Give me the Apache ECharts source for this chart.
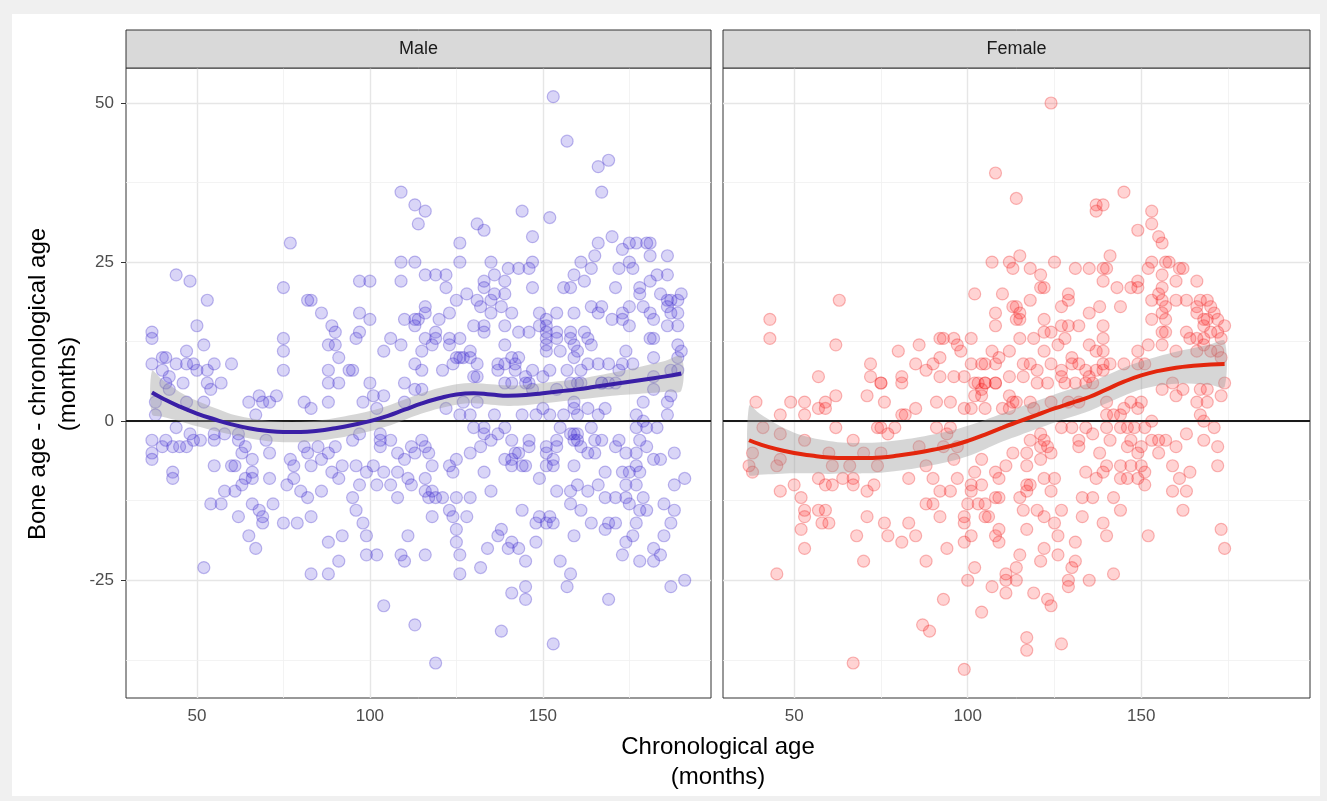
<!DOCTYPE html>
<html lang="en">
<head>
    <meta charset="UTF-8">
    <title>Bone age vs chronological age</title>
    <script src="https://cdn.jsdelivr.net/npm/echarts@6/dist/echarts.min.js" type="text/javascript"></script>
</head>
<body>
<style>
    html, body {
        margin: 0;
        padding: 0;
        background: #f0f0f0;
    }

    #main {
        width: 1327px;
        height: 801px;
    }
</style>
<div id="main"></div>
<script type="text/javascript">
    // facets
    var panels = ['Male', 'Female']
    var xTicks = [50, 100, 150]
    var xMinor = [75, 125, 175]
    var yTicks = [-25, 0, 25, 50]
    var yMinor = [-37.5, -12.5, 12.5, 37.5]

    // [chronological age, bone age - chronological age]
    var malePoints = [
        [109,36],[113,34],[114,31],[77,28],[109,25],[113,25],[44,23],[48,22],[53,19],[75,21],[82,19],[83,19],[86,17],[97,22],[100,22],
        [109,22],[50,15],[37,14],[37,13],[52,12],[47,11],[75,13],[75,11],[97,17],[100,16],[89,15],[90,14],[97,14],[96,13],[88,12],
        [90,12],[91,10],[104,11],[106,13],[109,12],[110,16],[113,15],[114,16],[37,9],[40,10],[41,10],[44,9],[47,9],[49,9],[50,8],
        [53,8],[55,9],[60,9],[40,8],[42,7],[46,6],[53,6],[75,8],[88,8],[94,8],[95,8],[88,6],[100,6],[110,6],[113,9],
        [153,51],[157,44],[166,40],[169,41],[167,36],[152,32],[144,33],[116,33],[131,31],[133,30],[126,28],[147,29],[170,29],[166,28],
        [175,28],[177,28],[180,28],[181,28],[173,27],[165,26],[181,26],[186,26],[126,25],[135,25],[147,25],[161,25],[164,24],[140,24],
        [143,24],[146,24],[172,24],[176,24],[175,25],[116,23],[119,23],[122,23],[136,23],[159,23],[162,22],[181,22],[183,23],[186,23],
        [133,22],[133,21],[139,22],[147,21],[156,21],[158,21],[171,21],[122,21],[128,20],[136,20],[139,20],[178,21],[178,20],[190,20],
        [184,20],[125,19],[131,19],[135,19],[186,19],[187,19],[189,19],[132,18],[138,18],[164,18],[167,18],[175,18],[179,18],[135,17],
        [141,17],[149,17],[154,17],[159,17],[166,17],[173,17],[181,17],[186,18],[187,17],[189,17],[116,18],[113,16],[116,17],[120,16],
        [123,17],[151,16],[170,16],[173,16],[182,16],[186,15],[189,15],[130,15],[133,15],[139,15],[149,15],[151,15],[175,15],[119,14],
        [133,14],[143,14],[146,14],[151,14],[154,14],[158,14],[162,14],[163,13],[164,12],[154,13],[158,13],[159,12],[151,13],[151,12],
        [151,11],[116,13],[119,13],[123,13],[123,12],[126,13],[115,11],[118,12],[129,11],[126,10],[139,12],[155,11],[160,11],[174,11],
        [182,13],[181,13],[189,12],[190,11],[189,10],[182,10],[125,10],[127,10],[129,10],[131,9],[124,9],[137,9],[139,9],[141,10],
        [143,10],[142,9],[159,10],[163,9],[166,9],[169,9],[173,9],[176,9],[115,8],[121,8],[137,8],[142,8],[147,8],[152,8],[157,8],
        [161,8],[172,8],[131,7],[130,7],[139,6],[146,6],[158,6],[160,6],[167,6],[169,6],[182,7],[187,8],[189,8],[145,7],[150,7],
        [54,5],[57,6],[41,6],[42,5],[38,3],[38,1],[47,3],[52,3],[65,3],[68,4],[69,3],[71,3],[73,4],[67,1],[81,3],[83,2],[88,3],[91,6],
        [98,3],[101,4],[104,4],[102,2],[110,3],
        [37,-3],[41,-3],[40,-4],[43,-4],[45,-4],[47,-4],[37,-5],[37,-6],[44,-1],[48,-2],[49,-3],[51,-3],[55,-3],[55,-2],[43,-8],[43,-9],
        [55,-7],[60,-7],[61,-7],[62,-3],[64,-4],[63,-5],[66,-6],[71,-5],[66,-8],[66,-9],[64,-9],[63,-10],[61,-11],[58,-11],[71,-9],
        [70,-3],[58,-2],[62,-2],[54,-13],[57,-13],[66,-13],[68,-14],[69,-15],[69,-16],[72,-13],[62,-15],[65,-18],[67,-20],[52,-23],
        [75,-16],[79,-16],[83,-15],[77,-6],[78,-7],[81,-4],[82,-5],[83,-7],[85,-4],[86,-6],[88,-5],[90,-4],[92,-7],[76,-10],[78,-9],
        [80,-11],[82,-12],[86,-11],[89,-8],[91,-9],[83,-24],[88,-24],[91,-22],[88,-19],[92,-18],
        [95,-3],[97,-2],[96,-7],[97,-10],[99,-8],[101,-7],[102,-10],[95,-12],[96,-14],[98,-16],[99,-18],[99,-21],[102,-21],[103,-3],
        [103,-4],[103,-2],[106,-3],[104,-8],[106,-10],[108,-8],[108,-12],[111,-9],[112,-10],[108,-5],[110,-6],[112,-4],[111,-18],
        [109,-21],[110,-22],[104,-29],[113,-32],
        [119,-38],[138,-33],[153,-35],[141,-27],[145,-26],[145,-28],[157,-26],[158,-24],[169,-28],[187,-26],[191,-25],[126,-24],
        [132,-23],[116,-21],[126,-21],[134,-20],[140,-20],[141,-19],[143,-20],[145,-22],[148,-19],[155,-22],[159,-18],[173,-21],
        [174,-19],[176,-18],[178,-22],[182,-22],[182,-20],[184,-21],[185,-18],[125,-17],[125,-19],[137,-18],[138,-17],[118,-15],
        [123,-14],[124,-15],[128,-15],[144,-14],[148,-16],[149,-15],[151,-16],[152,-15],[153,-16],[158,-13],[161,-14],[164,-16],
        [168,-17],[169,-16],[171,-16],[177,-16],[178,-14],[180,-14],[179,-12],[185,-13],[188,-14],[187,-16],[116,-11],[118,-11],
        [117,-12],[119,-12],[121,-12],[125,-12],[129,-12],[135,-11],[154,-11],[158,-11],[160,-10],[163,-11],[166,-10],[168,-12],
        [171,-12],[174,-12],[175,-13],[174,-10],[177,-10],[188,-10],[191,-9],
        [115,-3],[116,-4],[117,-5],[113,-5],[118,-7],[116,-9],[123,-7],[124,-8],[125,-6],[129,-5],[132,-4],[133,-8],[135,-3],[137,-2],
        [139,-1],[139,-6],[141,-3],[141,-6],[142,-5],[143,-5],[144,-7],[146,-3],[146,-4],[141,-7],[145,-7],[151,-4],[151,-5],[151,-7],
        [153,-7],[153,-6],[149,-9],[154,-3],[154,-4],[155,-1],[159,-7],[158,-2],[159,-2],[160,-2],[159,-3],[160,-3],[161,-4],[163,-5],
        [164,-1],[165,-3],[165,-5],[167,-3],[168,-8],[171,-4],[172,-3],[173,-8],[175,-8],[177,-7],[178,-8],[174,-5],[177,-5],[178,-3],
        [180,-4],[182,-6],[184,-6],[188,-5],[177,-1],[180,-1],[183,-1],[179,0],[130,-1],[133,-1],[133,-2],
        [122,2],[126,1],[129,1],[136,1],[144,1],[148,1],[150,2],[152,1],[156,1],[159,2],[160,1],[163,2],[166,1],[168,2],[177,1],[179,3],
        [186,3],[186,1],[187,4],[182,5],[113,5],[115,5],[127,3],[131,3],[141,6],[145,6],[147,5],[154,5],[159,3],[161,6],[167,6],[171,6]
    ]

    var femalePoints = [
        [108,39],[114,35],[107,25],[112,25],[113,24],[63,19],[102,20],[110,20],[43,16],[43,13],[62,12],[80,11],[86,12],[92,13],[93,13],
        [96,13],[97,12],[98,11],[101,13],[108,17],[108,15],[114,18],[114,16],[107,11],[109,10],[112,11],[72,9],[85,9],[90,9],[92,10],
        [101,9],[104,9],[105,9],[108,9],[57,7],[72,7],[75,6],[81,7],[88,8],[92,7],[96,7],[99,7],[103,6],[105,6],[108,6],[112,7],
        [124,50],[145,36],[137,34],[139,34],[137,33],[153,33],[153,31],[149,30],[155,29],[156,28],[115,26],[118,24],[121,23],
        [121,21],[122,21],[125,25],[141,26],[131,24],[135,24],[139,24],[140,24],[139,22],[143,21],[147,21],[149,22],[149,21],[144,18],
        [152,24],[153,25],[157,25],[158,25],[156,23],[156,21],[160,22],[161,24],[162,24],[166,22],[129,20],[129,19],[127,18],[138,18],
        [135,17],[153,19],[155,20],[156,19],[157,18],[160,19],[163,19],[156,17],[157,16],[153,16],[166,18],[166,17],[168,16],[171,17],
        [172,16],[168,15],[169,16],[167,19],[169,19],[170,18],[113,18],[115,17],[115,16],[118,19],[122,16],[122,14],[124,14],[127,15],
        [129,15],[132,15],[139,15],[115,13],[119,13],[128,13],[126,12],[122,11],[135,12],[139,13],[137,11],[139,11],[156,14],[157,14],
        [156,12],[152,12],[149,11],[160,11],[163,14],[164,13],[166,13],[168,13],[168,12],[166,11],[173,13],[174,15],[172,14],[170,14],
        [130,10],[130,9],[132,9],[127,8],[127,7],[134,8],[135,7],[137,8],[139,8],[139,9],[141,9],[145,9],[149,9],[151,9],[116,9],
        [118,9],[124,9],[120,8],[116,7],[120,6],[123,6],[170,11],[172,11],[173,10],[174,6],
        [39,3],[49,3],[53,3],[53,1],[46,1],[57,2],[59,2],[59,3],[62,4],[71,4],[76,3],[81,1],[82,1],[85,2],[91,3],[95,3],[99,2],[101,2],
        [102,4],[104,4],[105,2],[108,6],[112,4],[110,2],[112,2],[113,3],[102,6],[105,6],[104,5],[75,6],[81,6],
        [41,-1],[46,-2],[53,-3],[62,-1],[67,-3],[74,-1],[75,-1],[77,-2],[79,-1],[37,-7],[38,-8],[38,-5],[45,-7],[46,-6],[60,-5],
        [61,-7],[66,-7],[70,-5],[74,-7],[75,-5],
        [86,-4],[88,-7],[90,-9],[91,-1],[94,-2],[95,-1],[93,-4],[97,-4],[96,-6],[97,-9],[101,-10],[104,-10],[101,-11],[104,-6],
        [102,-8],[108,-8],[109,-9],[111,-7],[113,-5],
        [50,-10],[46,-11],[52,-12],[57,-9],[59,-10],[61,-10],[64,-9],[67,-9],[67,-10],[71,-11],[73,-10],[83,-9],[92,-11],[95,-11],
        [53,-14],[53,-15],[57,-14],[59,-14],[58,-16],[60,-16],[52,-17],[53,-20],[45,-24],
        [71,-15],[68,-18],[70,-22],[76,-16],[77,-18],[81,-19],[83,-16],[85,-18],[88,-22],[88,-13],[90,-13],[92,-15],[94,-20],[93,-28],
        [87,-32],[89,-33],[67,-38],[99,-39],
        [100,-13],[99,-15],[99,-16],[99,-19],[101,-18],[102,-23],[100,-25],[104,-30],[103,-13],[105,-13],[105,-15],[106,-15],
        [108,-12],[109,-12],[108,-18],[109,-17],[109,-19],[111,-24],[111,-25],[111,-27],[114,-23],[114,-25],[107,-26],
        [117,-34],[117,-36],[127,-35],[119,-27],[123,-28],[124,-29],[129,-25],[129,-26],[135,-25],[142,-24],[115,-21],[121,-22],
        [122,-20],[126,-21],[130,-23],[131,-22],[131,-19],[126,-18],[125,-16],[117,-17],
        [116,-14],[120,-14],[122,-15],[127,-14],[133,-15],[139,-16],[140,-18],[144,-14],[152,-18],[162,-14],[173,-17],[174,-20],
        [115,-12],[117,-11],[118,-10],[117,-10],[124,-11],[133,-12],[136,-12],[142,-12],[159,-11],[163,-11],
        [117,-7],[121,-6],[122,-9],[125,-9],[124,-5],[121,-4],[123,-4],[117,-5],[134,-8],[137,-9],[139,-8],[140,-7],[144,-7],[147,-7],
        [144,-9],[146,-9],[149,-9],[150,-7],[151,-8],[151,-10],[159,-7],[161,-9],[164,-8],[172,-7],
        [118,-3],[121,-2],[122,-3],[132,-3],[132,-4],[138,-5],[141,-3],[146,-4],[147,-3],[149,-5],[150,-4],[153,-3],[155,-3],
        [155,-5],[157,-3],[160,-4],[163,-2],[168,-3],[172,-4],[171,-1],
        [127,-1],[130,-1],[134,-1],[136,-2],[140,-1],[144,-1],[146,-1],[148,-1],[151,-1],[153,0],[168,0],
        [114,3],[118,3],[119,2],[124,3],[129,3],[132,3],[140,3],[140,1],[142,1],[144,1],[145,2],[147,3],[149,2],[150,3],[167,1],
        [166,3],[169,3],[160,4],[162,5],[156,5],[167,5],[169,5],[173,4],[159,6],[128,6],[131,6],[134,6],[136,6]
    ]

    // loess fits and their half widths of the confidence band
    var maleFitX = [37, 40, 45, 50, 55, 60, 65, 70, 75, 80, 85, 90, 95, 100, 105, 110, 115, 120, 125, 130, 135, 140, 145, 150, 155, 160, 165, 170, 175, 180, 185, 190]
    var maleFit = [4.5, 3.6, 2.3, 1.2, 0.3, -0.5, -1.1, -1.5, -1.7, -1.7, -1.5, -1.1, -0.6, 0, 0.8, 1.8, 2.8, 3.6, 4.2, 4.4, 4.2, 4.0, 4.1, 4.4, 4.7, 5.0, 5.4, 5.8, 6.2, 6.6, 7.0, 7.5]
    var maleSe = [3.4, 2.9, 2.3, 2.0, 1.8, 1.6, 1.6, 1.6, 1.6, 1.6, 1.6, 1.6, 1.6, 1.6, 1.6, 1.6, 1.6, 1.6, 1.6, 1.6, 1.6, 1.6, 1.6, 1.6, 1.6, 1.6, 1.7, 1.8, 2.0, 2.2, 2.4, 2.7]

    var femaleFitX = [37, 40, 45, 50, 55, 60, 65, 70, 75, 80, 85, 90, 95, 100, 105, 110, 115, 120, 125, 130, 135, 140, 145, 150, 155, 160, 165, 170, 174]
    var femaleFit = [-3.0, -3.6, -4.4, -5.0, -5.4, -5.7, -5.8, -5.8, -5.7, -5.4, -5.0, -4.5, -3.9, -3.1, -2.1, -1.0, 0, 1.0, 2.0, 2.9, 3.8, 5.0, 6.2, 7.2, 7.9, 8.4, 8.7, 8.9, 9.0]
    var femaleSe = [5.4, 4.8, 3.9, 3.2, 2.8, 2.6, 2.4, 2.4, 2.4, 2.4, 2.4, 2.4, 2.4, 2.4, 2.3, 2.2, 2.2, 2.2, 2.2, 2.2, 2.2, 2.2, 2.2, 2.2, 2.3, 2.5, 2.8, 3.2, 3.6]

    var colors = {
        Male: {line: '#3a1fa6', point: 'rgba(55,35,215,0.24)', ring: 'rgba(55,35,200,0.38)'},
        Female: {line: '#e3260d', point: 'rgba(255,25,25,0.24)', ring: 'rgba(235,20,20,0.36)'}
    }

    var font = 'Liberation Sans, Arial, Helvetica, sans-serif'
    var grids = [
        {left: 126, top: 68, width: 585, height: 630},
        {left: 723, top: 68, width: 587, height: 630}
    ]

    function gridLines() {
        var major = {lineStyle: {color: '#e6e6e6', width: 1.4, type: 'solid'}}
        var minor = {lineStyle: {color: '#f0f0f0', width: 0.8, type: 'solid'}}
        var data = []
        xTicks.forEach(v => data.push(Object.assign({xAxis: v}, major)))
        xMinor.forEach(v => data.push(Object.assign({xAxis: v}, minor)))
        yTicks.forEach(v => data.push(Object.assign({yAxis: v}, major)))
        yMinor.forEach(v => data.push(Object.assign({yAxis: v}, minor)))
        return {silent: true, z: 1, symbol: 'none', label: {show: false}, animation: false, data: data}
    }

    function bandSeries(i, xs, fit, se) {
        return {
            type: 'custom',
            xAxisIndex: i,
            yAxisIndex: i,
            z: 4,
            silent: true,
            data: xs.map((x, k) => [x, fit[k] - se[k], fit[k] + se[k]]),
            encode: {x: 0, y: [1, 2]},
            renderItem: function (params, api) {
                if (params.dataIndex !== 0) return
                var upper = xs.map((x, k) => api.coord([x, fit[k] + se[k]]))
                var lower = xs.map((x, k) => api.coord([x, fit[k] - se[k]])).reverse()
                return {
                    type: 'polygon',
                    shape: {points: upper.concat(lower), smooth: 0.3},
                    style: {fill: 'rgba(153,153,153,0.4)', stroke: 'none'}
                }
            },
            markLine: {
                silent: true, z: 3, symbol: 'none', label: {show: false}, animation: false,
                data: [{yAxis: 0, lineStyle: {color: '#1a1a1a', width: 1.8, type: 'solid'}}]
            }
        }
    }

    var series = []
    var xAxes = []
    var yAxes = []
    var sets = [
        [malePoints, maleFitX, maleFit, maleSe],
        [femalePoints, femaleFitX, femaleFit, femaleSe]
    ]
    panels.forEach((name, i) => {
        var s = sets[i]
        xAxes.push({
            type: 'value', gridIndex: i, min: 29.5, max: 198.6,
            axisLine: {show: false},
            splitLine: {show: false},
            axisTick: {show: true, customValues: xTicks, length: 5, lineStyle: {color: '#333', width: 1}},
            axisLabel: {customValues: xTicks, color: '#4d4d4d', fontSize: 17, fontFamily: font, margin: 10}
        })
        yAxes.push({
            type: 'value', gridIndex: i, min: -43.5, max: 55.5,
            axisLine: {show: false},
            splitLine: {show: false},
            axisTick: {show: i === 0, customValues: yTicks, length: 5, lineStyle: {color: '#333', width: 1}},
            axisLabel: {show: i === 0, customValues: yTicks, color: '#4d4d4d', fontSize: 17, fontFamily: font, margin: 12}
        })
        series.push({
            name: name,
            type: 'scatter',
            xAxisIndex: i,
            yAxisIndex: i,
            z: 2,
            symbolSize: 12,
            data: s[0],
            itemStyle: {color: colors[name].point, borderColor: colors[name].ring, borderWidth: 1.2},
            markLine: gridLines()
        })
        series.push(bandSeries(i, s[1], s[2], s[3]))
        series.push({
            type: 'line',
            xAxisIndex: i,
            yAxisIndex: i,
            z: 5,
            smooth: true,
            showSymbol: false,
            silent: true,
            data: s[1].map((x, k) => [x, s[2][k]]),
            lineStyle: {color: colors[name].line, width: 4}
        })
    })

    var graphics = [
        {type: 'rect', z: -10, shape: {x: 12, y: 14, width: 1308, height: 782}, style: {fill: '#ffffff'}},
        {
            type: 'text', x: 38, y: 384, rotation: Math.PI / 2,
            style: {text: 'Bone age - chronological age', fontSize: 24, fontFamily: font, fill: '#000', align: 'center', verticalAlign: 'middle'}
        },
        {
            type: 'text', x: 68, y: 384, rotation: Math.PI / 2,
            style: {text: '(months)', fontSize: 24, fontFamily: font, fill: '#000', align: 'center', verticalAlign: 'middle'}
        },
        {
            type: 'text', x: 718, y: 747,
            style: {text: 'Chronological age', fontSize: 24, fontFamily: font, fill: '#000', align: 'center', verticalAlign: 'middle'}
        },
        {
            type: 'text', x: 718, y: 777,
            style: {text: '(months)', fontSize: 24, fontFamily: font, fill: '#000', align: 'center', verticalAlign: 'middle'}
        }
    ]
    grids.forEach((g, i) => {
        graphics.push({
            type: 'rect', z: 10,
            shape: {x: g.left, y: 30, width: g.width, height: 38},
            style: {fill: '#d9d9d9', stroke: '#333', lineWidth: 1}
        })
        graphics.push({
            type: 'text', z: 11, x: g.left + g.width / 2, y: 49,
            style: {text: panels[i], fontSize: 18, fontFamily: font, fill: '#1a1a1a', align: 'center', verticalAlign: 'middle'}
        })
    })

    var option = {
        backgroundColor: '#f0f0f0',
        animation: false,
        grid: grids.map(g => Object.assign({show: true, backgroundColor: '#fff', borderColor: '#333', borderWidth: 1, containLabel: false}, g)),
        xAxis: xAxes,
        yAxis: yAxes,
        series: series,
        graphic: graphics
    }

    var myChart = echarts.init(document.getElementById('main'))
    myChart.setOption(option)
</script>
</body>
</html>
